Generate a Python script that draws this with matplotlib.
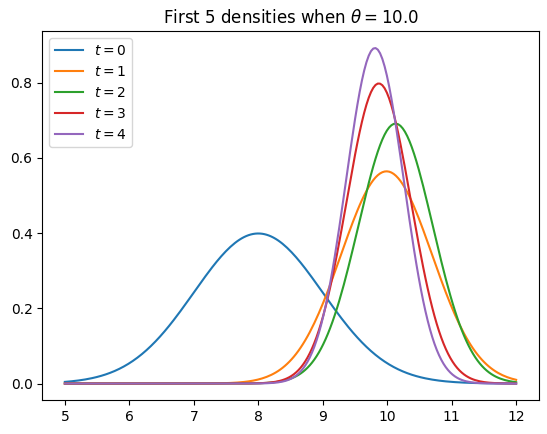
import numpy as np
import matplotlib
matplotlib.use("Agg")
import matplotlib.pyplot as plt

theta = 10.0
means = [8.0, 9.99, 10.13, 9.87, 9.81]
variances = [1.0, 0.5, 0.3333, 0.25, 0.2]
labels = [r"$t={}$".format(t) for t in range(5)]

x_grid = np.linspace(theta - 5, theta + 2, 200)


def normal_pdf(x, mu, var):
    return np.exp(-(x - mu) ** 2 / (2 * var)) / np.sqrt(2 * np.pi * var)


fig = plt.figure(figsize=(5.47, 4.34), dpi=100)
ax = fig.add_axes([0.0773, 0.0776, 0.9075, 0.8503])
for mu, var, lab in zip(means, variances, labels):
    ax.plot(x_grid, normal_pdf(x_grid, mu, var), label=lab)

ax.set_title(r"First 5 densities when $\theta = %.1f$" % theta)
ax.legend(loc="upper left")
fig.savefig("out.png", dpi=100)
